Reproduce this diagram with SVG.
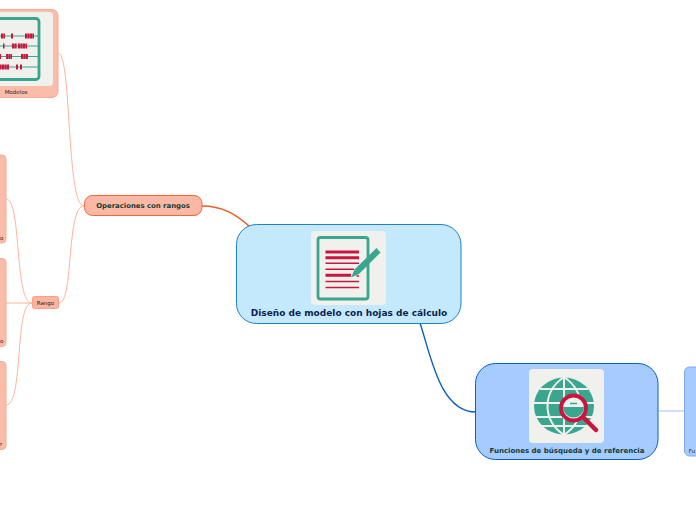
<svg xmlns="http://www.w3.org/2000/svg" width="696" height="520" viewBox="0 0 696 520">
<style>
text{font-family:"DejaVu Sans",Verdana,sans-serif;font-weight:700;text-anchor:middle}
.c{fill:none}
.o{stroke:#ffb39c;stroke-width:1}
.card{fill:#f0f0ec}
.t{fill:none;stroke:#3aa690;stroke-linecap:round}
.r{stroke:#c8163f;stroke-linecap:butt;fill:none}
.sub{fill:#fbbcaa;stroke:#f7a994;stroke-width:1}
.small{font-size:5.5px;fill:#2c2422;font-weight:400}
</style>
<g id="connectors">
<path class="c" stroke="#f05a28" stroke-width="1.600" d="M202 206C222 206 236 214 250 227"/>
<path class="c" stroke="#0a5fc4" stroke-width="1.400" d="M420 323C431 356 440 412 476 412"/>
<path class="c" stroke="#a3c0ef" stroke-width="1" d="M659 411H684"/>
<path class="c o" d="M84 206C66 206 72 53 58 53"/>
<path class="c o" d="M84 206C66 206 74 303 59 303"/>
<path class="c o" d="M32 303C14 303 22 199 6 199"/>
<path class="c o" d="M32 303H6"/>
<path class="c o" d="M32 303C14 303 24 405 6 405"/>
</g>
<g id="node-modelos">
<rect class="sub" x="-30" y="9.500" width="88" height="88" rx="6"/>
<rect class="card" x="-22" y="12" width="75" height="74" rx="4"/>
<rect class="t" x="-14" y="18.500" width="53" height="61" rx="3" stroke-width="2.800"/>
<path class="t" stroke-width="1.200" d="M-13 36H38M-13 46H38M-13 56.500H38M-13 67H38"/>
<path class="r" stroke-width="5" stroke-dasharray="2.200 .3" d="M1 36H5M11 36H13M25 36H34M3 46H4.500M12 46H17M18 46H27M-1 56.500H1M6 56.500H12M21 56.500H28M-3 67H9M16 67H18M20 67H22"/>
<text class="small" x="16" y="93.500">Modelos</text>
</g>
<g id="node-rango-a"><rect class="sub" x="-30" y="155" width="36" height="88" rx="4"/><text class="small" x="0" y="240" style="text-anchor:start">o</text></g>
<g id="node-rango-b"><rect class="sub" x="-30" y="258.500" width="36" height="88" rx="4"/><text class="small" x="0" y="343" style="text-anchor:start">o</text></g>
<g id="node-rango-c"><rect class="sub" x="-30" y="361.500" width="36" height="88" rx="4"/><text class="small" x="0" y="446" style="text-anchor:start">r</text></g>
<g id="node-rango"><rect x="32.500" y="296.500" width="26" height="12" rx="2" fill="#fbb5a0" stroke="#fb9f85"/><text class="small" x="45.500" y="305">Rango</text></g>
<g id="node-operaciones"><rect x="84.500" y="195.500" width="117.500" height="20" rx="8" fill="#fbb9a5" stroke="#f5643a"/><text x="143" y="208" font-size="6.900" fill="#123c34">Operaciones con rangos</text></g>
<g id="node-central">
<rect x="236.500" y="224.500" width="224.500" height="99" rx="20" fill="#c4e9fd" stroke="#1f82c9"/>
<rect class="card" x="311" y="231" width="75" height="74" rx="4"/>
<rect class="t" x="318" y="237.500" width="50" height="61.500" rx="2.500" stroke-width="2.800"/>
<path class="r" stroke-width="3" d="M325.500 252H359M325.500 257.700H359M325.500 275.200H351"/>
<path class="r" stroke-width="1.500" d="M325.500 263.300H359M325.500 269.300H354M325.500 281.500H359M325.500 287.500H359M356.500 276H359"/>
<path d="M376.500 248L380.500 252.500 359 274 351 277.500 354.500 269.500Z" fill="#3aa690"/>
<text x="349" y="316" font-size="9" fill="#0c1f50">Diseño de modelo con hojas de cálculo</text>
</g>
<g id="node-funciones">
<rect x="475.500" y="363.500" width="182.500" height="96" rx="20" fill="#a6cbff" stroke="#0a5fc4"/>
<rect class="card" x="529" y="369" width="75" height="74" rx="4"/>
<ellipse cx="564" cy="406" rx="30" ry="28.500" fill="#3aa690"/>
<path fill="none" stroke="#f0f0ec" stroke-width="2" d="M564 377V435M540 389H588M534 403H594M534 417H594M541 426H587M564 377C542 392 542 420 564 435M564 377C586 392 586 420 564 435"/>
<circle cx="573.500" cy="408" r="14" fill="#f0f0ec"/>
<path d="M563 407H584A10.500 10.500 0 0 1 563 407Z" fill="#3aa690"/>
<path d="M570 403.500H577" stroke="#3aa690" stroke-width="1.500"/>
<circle cx="573.500" cy="408" r="12.500" fill="none" stroke="#c8163f" stroke-width="4"/>
<path d="M584 418L596 430" stroke="#c8163f" stroke-width="4.500" stroke-linecap="round"/>
<text x="567" y="452.500" font-size="7" fill="#123c34">Funciones de búsqueda y de referencia</text>
</g>
<g id="node-fu"><rect x="684.500" y="367" width="40" height="89" rx="5" fill="#a6cbff" stroke="#7fa8e8"/><text class="small" x="692" y="452.500">Fu</text></g>
</svg>
